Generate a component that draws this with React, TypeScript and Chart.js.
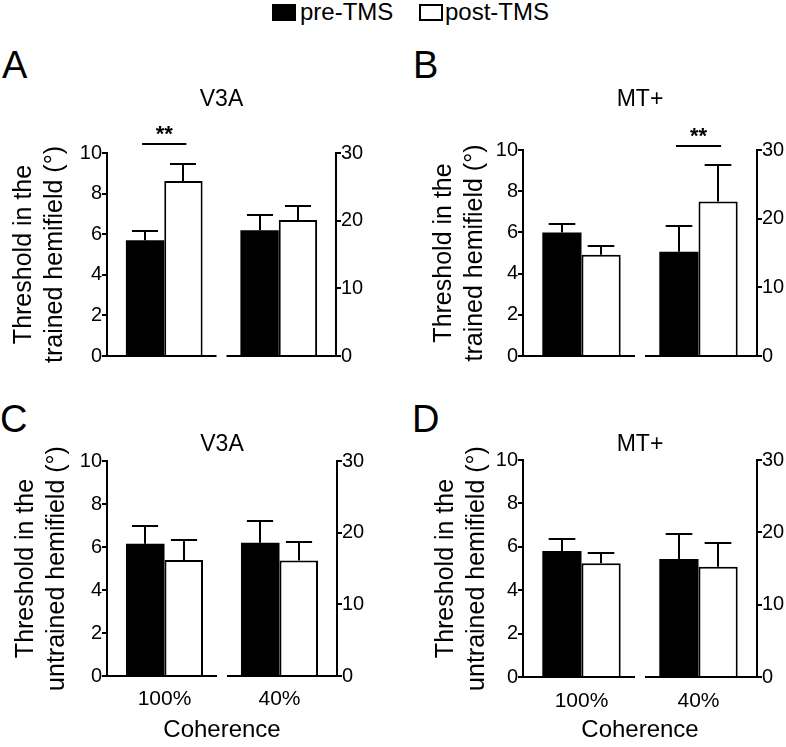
import React, { useEffect, useRef } from "react";
import { Chart, registerables } from "chart.js";

Chart.register(...registerables);

const FONT = "'Liberation Sans', Arial, Helvetica, sans-serif";

// ---------- data ----------
const categories = ["100%", "40%"];
const seriesLabels = ["pre-TMS", "post-TMS"];
const panelLetters = ["A", "B", "C", "D"];
const regionTitles = ["V3A", "MT+", "V3A", "MT+"];
const yTitleTrained = ["Threshold in the", "trained hemifield (°)"];
const yTitleUntrained = ["Threshold in the", "untrained hemifield (°)"];
const xAxisTitle = "Coherence";
const leftAxisMax = 10; // 100% coherence axis
const rightAxisMax = 30; // 40% coherence axis
const leftTickStep = 2;
const rightTickStep = 10;

// values: [100% (left axis), 40% (right axis)]
const v3aTrainedPre = [5.7, 18.6];
const v3aTrainedPreSem = [0.44, 2.3];
const v3aTrainedPost = [8.62, 20.1];
const v3aTrainedPostSem = [0.86, 2.1];

const mtTrainedPre = [6.0, 15.2];
const mtTrainedPreSem = [0.41, 3.7];
const mtTrainedPost = [4.91, 22.5];
const mtTrainedPostSem = [0.41, 5.3];

const v3aUntrainedPre = [6.15, 18.6];
const v3aUntrainedPreSem = [0.82, 3.0];
const v3aUntrainedPost = [5.4, 16.1];
const v3aUntrainedPostSem = [0.94, 2.6];

const mtUntrainedPre = [5.81, 16.3];
const mtUntrainedPreSem = [0.55, 3.5];
const mtUntrainedPost = [5.24, 15.25];
const mtUntrainedPostSem = [0.47, 3.25];

// significance: category index, axis and level of the bracket
const sigA = { index: 0, axis: "yL", level: 10.42, text: "**" };
const sigB = { index: 1, axis: "yR", level: 30.55, text: "**" };

// ---------- layout ----------
type Box = { left: number; top: number; w: number; h: number };
type Area = { left: number; right: number; top: number; bottom: number };
type PanelSpec = {
  title: string;
  yTitle: string[];
  pre: number[];
  preSem: number[];
  post: number[];
  postSem: number[];
  showX: boolean;
  sig: any;
  box: Box;
  area: Area;
  titleCenter: number;
  yTitleCenter: number;
  xTickPad: number;
};

const panels: PanelSpec[] = [
  {
    title: regionTitles[0], yTitle: yTitleTrained,
    pre: v3aTrainedPre, preSem: v3aTrainedPreSem, post: v3aTrainedPost, postSem: v3aTrainedPostSem,
    showX: false, sig: sigA,
    box: { left: 0, top: 80, w: 390, h: 300 },
    area: { left: 107, right: 336, top: 73, bottom: 288 },
    titleCenter: 20, yTitleCenter: 24, xTickPad: 12,
  },
  {
    title: regionTitles[1], yTitle: yTitleTrained,
    pre: mtTrainedPre, preSem: mtTrainedPreSem, post: mtTrainedPost, postSem: mtTrainedPostSem,
    showX: false, sig: sigB,
    box: { left: 400, top: 80, w: 386, h: 300 },
    area: { left: 123, right: 357, top: 70, bottom: 288 },
    titleCenter: 20, yTitleCenter: 44, xTickPad: 12,
  },
  {
    title: regionTitles[2], yTitle: yTitleUntrained,
    pre: v3aUntrainedPre, preSem: v3aUntrainedPreSem, post: v3aUntrainedPost, postSem: v3aUntrainedPostSem,
    showX: true, sig: null,
    box: { left: 0, top: 390, w: 390, h: 357 },
    area: { left: 107, right: 337, top: 71, bottom: 286 },
    titleCenter: 55, yTitleCenter: 26, xTickPad: 11,
  },
  {
    title: regionTitles[3], yTitle: yTitleUntrained,
    pre: mtUntrainedPre, preSem: mtUntrainedPreSem, post: mtUntrainedPost, postSem: mtUntrainedPostSem,
    showX: true, sig: null,
    box: { left: 400, top: 390, w: 386, h: 357 },
    area: { left: 123, right: 357, top: 70, bottom: 287 },
    titleCenter: 55, yTitleCenter: 46, xTickPad: 12,
  },
];

const TITLE_SIZE = 23;
const TITLE_LH = TITLE_SIZE * 1.2;
const YTITLE_SIZE = 25;
const YTITLE_LH = 31;

const decorPlugin = {
  id: "panelDecor",
  afterDatasetsDraw(chart: any, _args: any, opts: any) {
    const ctx = chart.ctx;
    const area = chart.chartArea;
    const xs = chart.scales.x;
    ctx.save();
    ctx.strokeStyle = "#000";
    ctx.lineWidth = 2;
    ctx.lineCap = "butt";
    // error bars (upper only)
    chart.data.datasets.forEach((ds: any, di: number) => {
      const meta = chart.getDatasetMeta(di);
      const ys = chart.scales[ds.yAxisID];
      meta.data.forEach((el: any, i: number) => {
        const v = ds.data[i];
        if (v == null) return;
        const top = ys.getPixelForValue(v + ds.errors[i]);
        const half = el.width * 0.34;
        const x = Math.round(el.x);
        const yT = Math.round(top);
        ctx.beginPath();
        ctx.moveTo(x, el.y);
        ctx.lineTo(x, yT);
        ctx.moveTo(x - half, yT);
        ctx.lineTo(x + half, yT);
        ctx.stroke();
      });
    });
    // split baseline
    const mid = (xs.getPixelForValue(0) + xs.getPixelForValue(1)) / 2;
    const yb = Math.round(area.bottom);
    ctx.beginPath();
    ctx.moveTo(area.left, yb);
    ctx.lineTo(mid - 5, yb);
    ctx.moveTo(mid + 5, yb);
    ctx.lineTo(area.right, yb);
    ctx.stroke();
    // significance bracket
    const sig = opts && opts.sig;
    if (sig) {
      const ys = chart.scales[sig.axis];
      const y = Math.round(ys.getPixelForValue(sig.level));
      const els: any[] = [];
      chart.data.datasets.forEach((ds: any, di: number) => {
        if (ds.data[sig.index] != null) els.push(chart.getDatasetMeta(di).data[sig.index]);
      });
      const x1 = els[0].x - 3;
      const x2 = els[els.length - 1].x + 3;
      ctx.beginPath();
      ctx.moveTo(x1, y);
      ctx.lineTo(x2, y);
      ctx.stroke();
      ctx.fillStyle = "#000";
      ctx.font = `bold 22px ${FONT}`;
      ctx.textAlign = "center";
      ctx.textBaseline = "alphabetic";
      ctx.fillText(sig.text, (x1 + x2) / 2, y - 3);
    }
    ctx.restore();
  },
};

function buildConfig(p: PanelSpec): any {
  const bar = (data: any[], errors: number[], axis: string, fill: string, label: string) => ({
    label,
    data,
    errors,
    yAxisID: axis,
    backgroundColor: fill,
    borderColor: "#000",
    borderWidth: fill === "#000" ? 0 : 2,
    borderSkipped: "start",
  });
  const datasets = [
    bar([p.pre[0], null], [p.preSem[0], 0], "yL", "#000", `${seriesLabels[0]} ${categories[0]}`),
    bar([p.post[0], null], [p.postSem[0], 0], "yL", "#fff", `${seriesLabels[1]} ${categories[0]}`),
    bar([null, p.pre[1]], [0, p.preSem[1]], "yR", "#000", `${seriesLabels[0]} ${categories[1]}`),
    bar([null, p.post[1]], [0, p.postSem[1]], "yR", "#fff", `${seriesLabels[1]} ${categories[1]}`),
  ];
  const tickFont = { family: FONT, size: 20 };
  const yCommon = {
    grid: { drawOnChartArea: false, drawTicks: true, tickLength: 5, color: "#000", lineWidth: 2 },
    border: { display: true, color: "#000", width: 2 },
  };
  return {
    type: "bar",
    data: { labels: categories, datasets },
    plugins: [decorPlugin],
    options: {
      responsive: false,
      animation: false,
      devicePixelRatio: 1,
      events: [],
      layout: { padding: { left: 0, right: 0, top: 0, bottom: p.showX ? 0 : p.box.h - p.area.bottom } },
      datasets: { bar: { categoryPercentage: 0.67, barPercentage: 1, skipNull: true } },
      plugins: {
        legend: { display: false },
        tooltip: { enabled: false },
        title: {
          display: true,
          text: p.title,
          fullSize: false,
          color: "#000",
          font: { family: FONT, size: TITLE_SIZE, weight: "normal", lineHeight: 1.2 },
          padding: { top: p.titleCenter - TITLE_LH / 2, bottom: p.area.top - p.titleCenter - TITLE_LH / 2 },
        },
        panelDecor: { sig: p.sig },
      },
      scales: {
        x: {
          type: "category",
          display: p.showX,
          grid: { display: false, drawTicks: false },
          border: { display: false },
          ticks: { color: "#000", font: { family: FONT, size: 21 }, padding: p.xTickPad },
          title: {
            display: true,
            text: xAxisTitle,
            color: "#000",
            font: { family: FONT, size: 24, lineHeight: 1.2 },
            padding: { top: 0, bottom: 2 },
          },
          afterFit: (s: any) => {
            s.height = p.box.h - p.area.bottom;
          },
        },
        yL: {
          ...yCommon,
          type: "linear",
          position: "left",
          min: 0,
          max: leftAxisMax,
          ticks: { stepSize: leftTickStep, color: "#000", font: tickFont, padding: 0 },
          title: {
            display: true,
            text: p.yTitle,
            color: "#000",
            font: { family: FONT, size: YTITLE_SIZE, lineHeight: YTITLE_LH / YTITLE_SIZE },
            padding: { top: p.yTitleCenter - YTITLE_LH / 2, bottom: 0 },
          },
          afterFit: (s: any) => {
            s.width = p.area.left;
          },
        },
        yR: {
          ...yCommon,
          type: "linear",
          position: "right",
          min: 0,
          max: rightAxisMax,
          ticks: { stepSize: rightTickStep, color: "#000", font: tickFont, padding: 0 },
          afterFit: (s: any) => {
            s.width = p.box.w - p.area.right;
          },
        },
      },
    },
  };
}

function Panel({ spec }: { spec: PanelSpec }) {
  const ref = useRef<HTMLCanvasElement>(null);
  useEffect(() => {
    if (!ref.current) return;
    const chart = new Chart(ref.current, buildConfig(spec));
    return () => chart.destroy();
  }, [spec]);
  return (
    <canvas
      ref={ref}
      width={spec.box.w}
      height={spec.box.h}
      style={{ position: "absolute", left: spec.box.left, top: spec.box.top, width: spec.box.w, height: spec.box.h }}
    />
  );
}

const textStyle = (left: number, top: number, size: number): React.CSSProperties => ({
  position: "absolute",
  left,
  top,
  fontFamily: FONT,
  fontSize: size,
  lineHeight: `${size}px`,
  color: "#000",
  whiteSpace: "nowrap",
});

const letterPos = [
  { left: 2, top: 46 },
  { left: 413, top: 46 },
  { left: 0, top: 400 },
  { left: 412, top: 400 },
];

export default function App() {
  return (
    <div style={{ position: "absolute", left: 0, top: 0, width: 786, height: 747, background: "#fff", overflow: "hidden" }}>
      {/* legend */}
      <div style={{ position: "absolute", left: 272, top: 4, width: 24, height: 17, background: "#000" }} />
      <div style={textStyle(300, 0, 24)}>{seriesLabels[0]}</div>
      <div style={{ position: "absolute", left: 419, top: 4, width: 24, height: 17, border: "2px solid #000", boxSizing: "border-box", background: "#fff" }} />
      <div style={textStyle(445, 0, 24)}>{seriesLabels[1]}</div>
      {panelLetters.map((l, i) => (
        <div key={l} style={textStyle(letterPos[i].left, letterPos[i].top, 38)}>{l}</div>
      ))}
      {panels.map((p, i) => (
        <Panel key={i} spec={p} />
      ))}
    </div>
  );
}
